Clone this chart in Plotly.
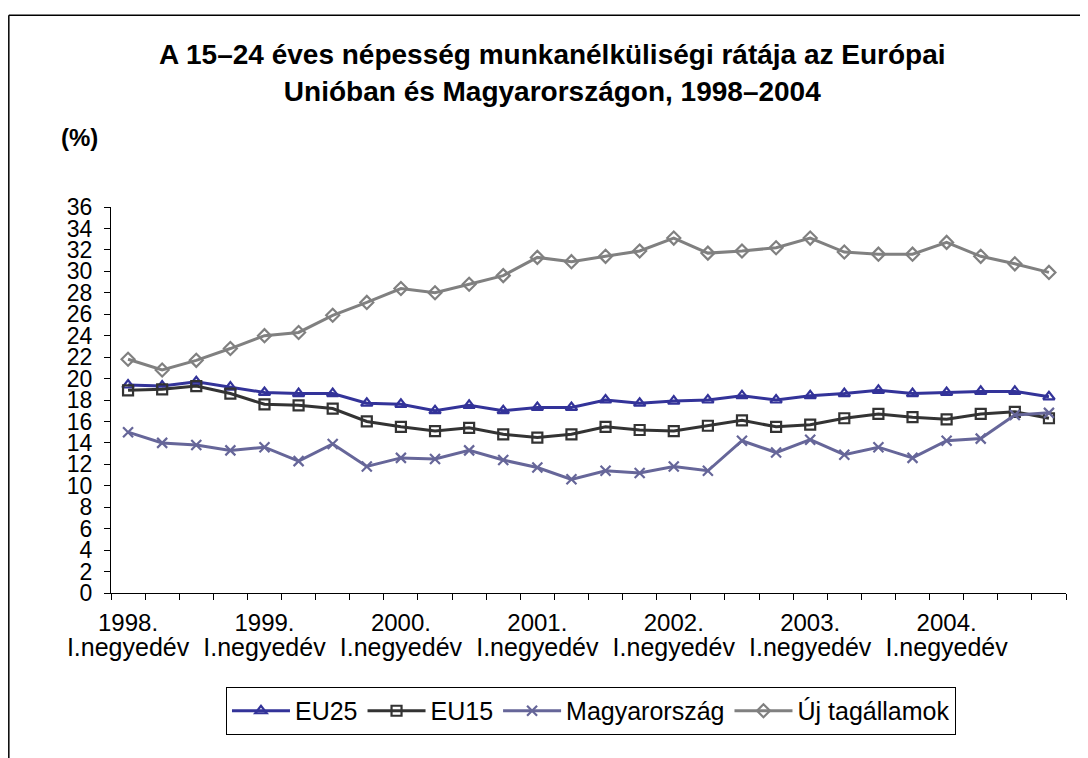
import plotly.graph_objects as go

# negyedévek 1998 Q1 - 2004 Q4
quarters = list(range(28))
year_labels = ["1998.", "1999.", "2000.", "2001.", "2002.", "2003.", "2004."]
quarter_label = "I.negyedév"
year_pos = [0, 4, 8, 12, 16, 20, 24]

eu25 = [19.4, 19.3, 19.7, 19.2, 18.7, 18.6, 18.6, 17.7, 17.6, 17.0, 17.5, 17.0, 17.3, 17.3,
        18.0, 17.7, 17.9, 18.0, 18.4, 18.0, 18.4, 18.6, 18.9, 18.6, 18.7, 18.8, 18.8, 18.3]
eu15 = [18.9, 19.0, 19.3, 18.6, 17.6, 17.5, 17.2, 16.0, 15.5, 15.1, 15.4, 14.8, 14.5, 14.8,
        15.5, 15.2, 15.1, 15.6, 16.1, 15.5, 15.7, 16.3, 16.7, 16.4, 16.2, 16.7, 16.9, 16.3]
magyar = [15.0, 14.0, 13.8, 13.3, 13.6, 12.3, 13.9, 11.8, 12.6, 12.5, 13.3, 12.4, 11.7, 10.6,
          11.4, 11.2, 11.8, 11.4, 14.2, 13.1, 14.3, 12.9, 13.6, 12.6, 14.2, 14.4, 16.6, 16.8]
uj = [21.8, 20.8, 21.7, 22.8, 24.0, 24.3, 25.9, 27.1, 28.4, 28.0, 28.8, 29.6, 31.3, 30.9,
      31.4, 31.9, 33.1, 31.7, 31.9, 32.2, 33.1, 31.8, 31.6, 31.6, 32.7, 31.4, 30.7, 29.9]

FONT = "Arial, Liberation Sans, sans-serif"

fig = go.Figure()
series = [
    ("EU25", eu25, "#333399", "triangle-up-open"),
    ("EU15", eu15, "#333333", "square-open"),
    ("Magyarország", magyar, "#666699", "x-thin-open"),
    ("Új tagállamok", uj, "#808080", "diamond-open"),
]
for name, vals, col, sym in series:
    fig.add_trace(go.Scatter(
        x=quarters, y=vals, name=name, mode="lines+markers",
        line=dict(color=col, width=3),
        marker=dict(symbol=sym, size=10, color=col, line=dict(color=col, width=2.2)),
    ))

# invisible traces so the two label axes are drawn
fig.add_trace(go.Scatter(x=[0], y=[None], xaxis="x2", showlegend=False, hoverinfo="skip"))
fig.add_trace(go.Scatter(x=[0], y=[None], xaxis="x3", showlegend=False, hoverinfo="skip"))

boundaries = [q - 0.5 for q in range(29)]
label_axis = dict(range=[-0.5, 27.5], overlaying="x", side="bottom", tickmode="array",
                  tickvals=year_pos, ticks="", showline=False, showgrid=False, zeroline=False)

# the page body adds 8px margin, so the figure is 8px smaller than the window
fig.update_layout(
    width=1080, height=750,
    paper_bgcolor="white", plot_bgcolor="white",
    font=dict(family=FONT, color="black"),
    margin=dict(l=103, r=22, t=199, b=165),
    title=dict(text="<b>A 15–24 éves népesség munkanélküliségi rátája az Európai<br>Unióban és Magyarországon, 1998–2004</b>",
               x=0.504, xanchor="center", y=0.925, yanchor="top",
               font=dict(size=28, family=FONT)),
    xaxis=dict(range=[-0.5, 27.5], tickmode="array", tickvals=boundaries,
               showticklabels=False, ticks="outside", ticklen=6, tickcolor="black",
               showline=True, linecolor="black", linewidth=1, showgrid=False, zeroline=False),
    xaxis2=dict(label_axis, ticktext=year_labels, ticklabelstandoff=13,
                tickfont=dict(size=24, family=FONT)),
    xaxis3=dict(label_axis, ticktext=[quarter_label] * len(year_pos), ticklabelstandoff=37,
                tickfont=dict(size=25, family=FONT)),
    yaxis=dict(range=[0, 36], tickmode="linear", tick0=0, dtick=2,
               ticks="outside", ticklen=6, tickcolor="black",
               showline=True, linecolor="black", linewidth=1, showgrid=False, zeroline=False,
               tickfont=dict(size=23, family=FONT), ticklabelstandoff=7),
    legend=dict(orientation="h", x=0.5026, xanchor="center", y=-0.2435, yanchor="top",
                bordercolor="black", borderwidth=1, font=dict(size=25, family=FONT),
                itemwidth=58, tracegroupgap=0),
    showlegend=True,
)

fig.add_annotation(text="<b>(%)</b>", xref="paper", yref="paper", x=-0.0325, y=1.179,
                   xanchor="center", yanchor="middle", showarrow=False,
                   font=dict(size=24, family=FONT))

# chart area frame (only top and left edges fall inside the picture)
fig.add_shape(type="line", xref="paper", yref="paper", x0=-0.107, x1=1.05, y0=1.497, y1=1.497,
              line=dict(color="black", width=1.5))
fig.add_shape(type="line", xref="paper", yref="paper", x0=-0.107, x1=-0.107, y0=1.497, y1=-0.6,
              line=dict(color="black", width=1.5))

fig.write_html("out.html")
